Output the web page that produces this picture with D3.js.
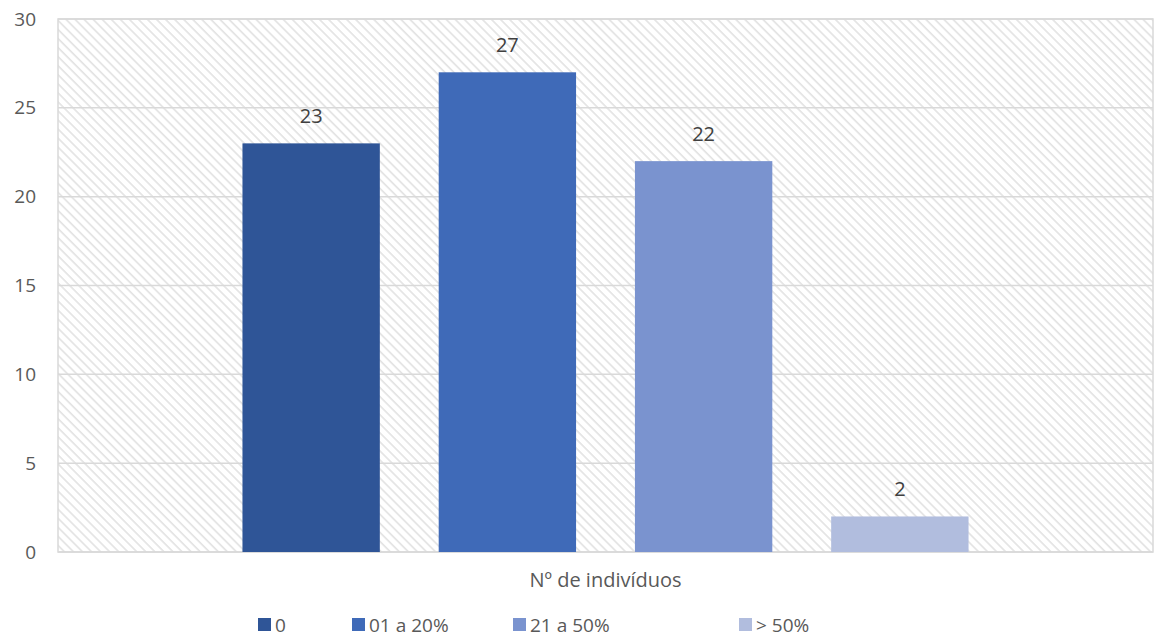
<!DOCTYPE html>
<html>
<head>
<meta charset="utf-8">
<script src="https://cdn.jsdelivr.net/npm/d3@7"></script>
<style>
  html, body { margin: 0; padding: 0; background: #ffffff; }
  svg { display: block; }
  text { font-family: "Open Sans", "Liberation Sans", Arial, sans-serif; }
</style>
</head>
<body>
<svg id="chart" width="1156" height="642"></svg>
<script>
// Chart data
const category = "Nº de indivíduos";
const seriesNames = ["0", "01 a 20%", "21 a 50%", "> 50%"];
const seriesValues = [23, 27, 22, 2];
const seriesColors = ["#2F5597", "#3F6AB8", "#7A93CF", "#B1BDDE"];
const yTicks = [0, 5, 10, 15, 20, 25, 30];

const svg = d3.select("#chart");
const plot = { left: 58, right: 1153, top: 19, bottom: 552 };

// Hatched background pattern (downward diagonal)
const defs = svg.append("defs");
const pat = defs.append("pattern")
  .attr("id", "hatch")
  .attr("patternUnits", "userSpaceOnUse")
  .attr("width", 6.4).attr("height", 6.4)
  .attr("patternTransform", "rotate(-45)");
pat.append("rect").attr("width", 6.4).attr("height", 6.4).attr("fill", "#ffffff");
pat.append("line")
  .attr("x1", 1).attr("y1", 0).attr("x2", 1).attr("y2", 6.4)
  .attr("stroke", "#e2e2e2").attr("stroke-width", 1.6);

const y = d3.scaleLinear().domain([0, 30]).range([plot.bottom, plot.top]);
const xCat = d3.scaleBand().domain([category]).range([plot.left, plot.right]).paddingInner(0).paddingOuter(0);
const xSeries = d3.scaleBand().domain(seriesNames)
  .range([xCat(category), xCat(category) + xCat.bandwidth()])
  .paddingInner(0.3).paddingOuter(0.94);

svg.append("rect")
  .attr("x", plot.left).attr("y", plot.top)
  .attr("width", plot.right - plot.left).attr("height", plot.bottom - plot.top)
  .attr("fill", "url(#hatch)");

// Gridlines
svg.append("g")
  .selectAll("line")
  .data(yTicks)
  .join("line")
  .attr("x1", plot.left).attr("x2", plot.right)
  .attr("y1", d => y(d)).attr("y2", d => y(d))
  .attr("stroke", "#d9d9d9").attr("stroke-width", 1.5);

// Plot border
svg.append("rect")
  .attr("x", plot.left).attr("y", plot.top)
  .attr("width", plot.right - plot.left).attr("height", plot.bottom - plot.top)
  .attr("fill", "none").attr("stroke", "#d9d9d9").attr("stroke-width", 1.5);

// Y axis labels
const yAxis = d3.axisLeft(y).tickValues(yTicks).tickSize(0).tickPadding(0);
const gy = svg.append("g").attr("transform", `translate(36,0)`).call(yAxis);
gy.select(".domain").remove();
gy.selectAll("text")
  .attr("font-size", 19).attr("fill", "#595959")
  .style("font-family", "'Open Sans', 'Liberation Sans', Arial, sans-serif");

// Bars
svg.append("g")
  .selectAll("rect")
  .data(seriesNames)
  .join("rect")
  .attr("x", (d) => xSeries(d))
  .attr("width", xSeries.bandwidth())
  .attr("y", (d, i) => y(seriesValues[i]))
  .attr("height", (d, i) => y(0) - y(seriesValues[i]))
  .attr("fill", (d, i) => seriesColors[i]);

// Data labels
svg.append("g")
  .selectAll("text")
  .data(seriesNames)
  .join("text")
  .attr("x", d => xSeries(d) + xSeries.bandwidth() / 2)
  .attr("y", (d, i) => y(seriesValues[i]) - 20)
  .attr("text-anchor", "middle")
  .attr("font-size", 20).attr("fill", "#404040")
  .text((d, i) => seriesValues[i]);

// Category axis title
svg.append("text")
  .attr("x", xCat(category) + xCat.bandwidth() / 2)
  .attr("y", 587)
  .attr("text-anchor", "middle")
  .attr("font-size", 20).attr("fill", "#595959")
  .text(category);

// Legend
const legendX = [258, 352, 513, 739];
const legend = svg.append("g")
  .selectAll("g")
  .data(seriesNames)
  .join("g")
  .attr("transform", (d, i) => `translate(${legendX[i]},618)`);
legend.append("rect")
  .attr("width", 13).attr("height", 13)
  .attr("fill", (d, i) => seriesColors[i]);
legend.append("text")
  .attr("x", 17).attr("y", 14)
  .attr("font-size", 19).attr("fill", "#595959")
  .text(d => d);
</script>
</body>
</html>
